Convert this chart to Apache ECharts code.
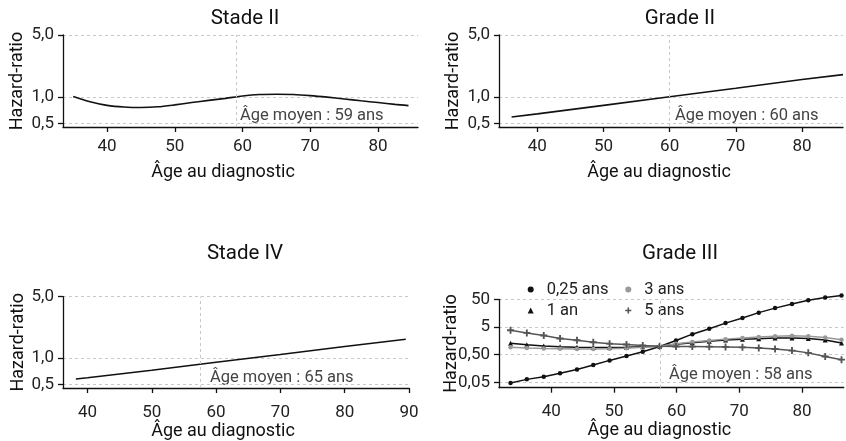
<!DOCTYPE html>
<html><head><meta charset="utf-8">
<script src="https://cdn.jsdelivr.net/npm/echarts@6/dist/echarts.min.js"></script>
<style>html,body{margin:0;padding:0;background:#fff}#c{width:846px;height:441px}</style>
</head><body><div id="c"></div><script>
const FONT = "Roboto, 'DejaVu Sans Condensed', sans-serif";

// ---- texts ----
const panelTitles = ['Stade II', 'Grade II', 'Stade IV', 'Grade III'];
const xAxisName = 'Âge au diagnostic';
const yAxisName = 'Hazard-ratio';
const meanAges = [59, 60, 57.5, 57.45];
const meanAgeLabels = ['Âge moyen : 59 ans', 'Âge moyen : 60 ans', 'Âge moyen : 65 ans', 'Âge moyen : 58 ans'];

// ---- ticks ----
const xTicks = [40, 50, 60, 70, 80];
const xTicksStadeIV = [40, 50, 60, 70, 80, 90];
const yTicks = [0.5, 1, 5];
const yTickLabels = ['0,5', '1,0', '5,0'];
const yTicksGradeIII = [0.05, 0.5, 5, 50];
const yTickLabelsGradeIII = ['0,05', '0,50', '5', '50'];

// ---- data ----
const stadeIIAge = [35, 37.5, 40, 42.5, 45, 47.5, 50, 52.5, 55, 57.5, 60, 62.5, 65, 67.5, 70, 72.5, 75, 77.5, 80, 82.5, 84.5];
const stadeIIHR  = [1.01, 0.88, 0.80, 0.765, 0.755, 0.77, 0.81, 0.86, 0.91, 0.96, 1.02, 1.06, 1.07, 1.06, 1.03, 0.99, 0.945, 0.90, 0.86, 0.82, 0.795];

const gradeIIAge = [36.1, 40, 50, 60, 70, 80, 86.2];
const gradeIIHR  = [0.59, 0.64, 0.80, 1.00, 1.25, 1.57, 1.78];

const stadeIVAge = [38.2, 40, 50, 60, 70, 80, 89.5];
const stadeIVHR  = [0.58, 0.60, 0.73, 0.90, 1.10, 1.36, 1.64];

const gradeIIIAge = [33.5, 36.1, 38.8, 41.4, 44.1, 46.7, 49.3, 52.0, 54.6, 57.3, 59.9, 62.5, 65.2, 67.8, 70.5, 73.1, 75.7, 78.4, 81.0, 83.7, 86.3];
const gradeIIISeriesNames = ['0,25 ans', '1 an', '3 ans', '5 ans'];
const hr025 = [0.047, 0.064, 0.08, 0.106, 0.146, 0.21, 0.31, 0.45, 0.64, 0.98, 1.62, 2.75, 4.3, 6.9, 10.5, 16.5, 24, 34, 46, 58, 68];
const hr1   = [1.29, 1.13, 1.03, 0.96, 0.92, 0.90, 0.91, 0.93, 0.97, 1.0, 1.2, 1.35, 1.52, 1.68, 1.80, 1.89, 1.98, 2.0, 1.9, 1.69, 1.32];
const hr3   = [0.92, 0.87, 0.84, 0.82, 0.80, 0.80, 0.82, 0.86, 0.93, 1.0, 1.25, 1.42, 1.62, 1.82, 2.0, 2.17, 2.29, 2.42, 2.3, 2.1, 1.74];
const hr5   = [3.8, 3.05, 2.45, 1.92, 1.65, 1.40, 1.25, 1.16, 1.07, 1.0, 0.99, 0.98, 0.97, 0.95, 0.92, 0.87, 0.80, 0.70, 0.58, 0.43, 0.33];

const PLUS = 'path://M2.2,0H3.8V2.2H6V3.8H3.8V6H2.2V3.8H0V2.2H2.2Z';

function zip(a, b) { return a.map((x, i) => [x, b[i]]); }
function labelFmt(vals, labels) {
  return v => {
    let best = 0;
    for (let i = 1; i < vals.length; i++) {
      if (Math.abs(Math.log(vals[i] / v)) < Math.abs(Math.log(vals[best] / v))) best = i;
    }
    return labels[best];
  };
}

const grids = [
  { left: 63, top: 35, width: 355, height: 92 },
  { left: 499, top: 35, width: 344, height: 92 },
  { left: 63, top: 296.7, width: 346, height: 91.6 },
  { left: 499, top: 299.3, width: 344.7, height: 88.4 }
];
const xRanges = [[33.5, 85.9], [34.2, 86.2], [36.2, 90], [31.66, 86.65]];
const yRanges = [[0.455, 5], [0.455, 5], [0.458, 5], [0.032, 50]];
const xTickSets = [xTicks, xTicks, xTicksStadeIV, xTicks];
const yTickSets = [yTicks, yTicks, yTicks, yTicksGradeIII];
const yLabelSets = [yTickLabels, yTickLabels, yTickLabels, yTickLabelsGradeIII];
const xLabelMargin = [11, 11, 16, 16];
const xNameGap = [36, 36, 34, 34];
const xNameShift = [35, 24, 26, 24];
const yNameGap = [37, 37, 36, 39];

const axisLineStyle = { color: '#111', width: 1.3 };
const gridLine = { show: true, lineStyle: { color: '#c8c8c8', type: [3, 3], width: 1 } };

const xAxes = grids.map((g, i) => ({
  type: 'value', gridIndex: i, min: xRanges[i][0], max: xRanges[i][1],
  name: xAxisName, nameLocation: 'middle', nameGap: xNameGap[i], nameMoveOverlap: false,
  nameTextStyle: { fontFamily: FONT, fontSize: 18, color: '#111', padding: [0, xNameShift[i], 0, 0] },
  axisLine: { show: true, onZero: false, lineStyle: axisLineStyle },
  axisTick: { show: true, length: 5, lineStyle: axisLineStyle, customValues: xTickSets[i] },
  axisLabel: { fontFamily: FONT, fontSize: 17, color: '#222', margin: xLabelMargin[i], customValues: xTickSets[i] },
  splitLine: { show: false }
}));

const yAxes = grids.map((g, i) => ({
  type: 'log', logBase: 10, gridIndex: i, min: yRanges[i][0], max: yRanges[i][1],
  name: yAxisName, nameLocation: 'middle', nameGap: yNameGap[i], nameRotate: 90, nameMoveOverlap: false,
  nameTextStyle: { fontFamily: FONT, fontSize: 18, color: '#111' },
  axisLine: { show: true, lineStyle: axisLineStyle },
  axisTick: { show: true, length: 5, lineStyle: axisLineStyle, customValues: yTickSets[i] },
  axisLabel: { fontFamily: FONT, fontSize: 17, color: '#222', margin: 9, customValues: yTickSets[i],
               formatter: labelFmt(yTickSets[i], yLabelSets[i]) },
  splitLine: gridLine
}));

function meanLine(i) {
  return { symbol: ['none', 'none'], silent: true, label: { show: false },
           lineStyle: { type: [3, 3], color: '#c8c8c8', width: 1 },
           data: [{ xAxis: meanAges[i] }] };
}

const series = [
  { type: 'line', xAxisIndex: 0, yAxisIndex: 0, data: zip(stadeIIAge, stadeIIHR), smooth: 0.3,
    showSymbol: false, lineStyle: { color: '#111', width: 1.6 }, markLine: meanLine(0) },
  { type: 'line', xAxisIndex: 1, yAxisIndex: 1, data: zip(gradeIIAge, gradeIIHR),
    showSymbol: false, lineStyle: { color: '#111', width: 1.6 }, markLine: meanLine(1) },
  { type: 'line', xAxisIndex: 2, yAxisIndex: 2, data: zip(stadeIVAge, stadeIVHR),
    showSymbol: false, lineStyle: { color: '#111', width: 1.6 }, markLine: meanLine(2) },
  { name: gradeIIISeriesNames[0], type: 'line', xAxisIndex: 3, yAxisIndex: 3, data: zip(gradeIIIAge, hr025),
    symbol: 'circle', symbolSize: 4.5, clip: false, color: '#111',
    lineStyle: { color: '#111', width: 1.5 }, itemStyle: { color: '#111' }, markLine: meanLine(3) },
  { name: gradeIIISeriesNames[1], type: 'line', xAxisIndex: 3, yAxisIndex: 3, data: zip(gradeIIIAge, hr1),
    symbol: 'triangle', symbolSize: 5, clip: false, color: '#111',
    lineStyle: { color: '#111', width: 1.5 }, itemStyle: { color: '#111' } },
  { name: gradeIIISeriesNames[2], type: 'line', xAxisIndex: 3, yAxisIndex: 3, data: zip(gradeIIIAge, hr3),
    symbol: 'circle', symbolSize: 4.5, clip: false, color: '#999',
    lineStyle: { color: '#999', width: 1.5 }, itemStyle: { color: '#999' } },
  { name: gradeIIISeriesNames[3], type: 'line', xAxisIndex: 3, yAxisIndex: 3, data: zip(gradeIIIAge, hr5),
    symbol: PLUS, symbolSize: 7, clip: false, color: '#555',
    lineStyle: { color: '#555', width: 1.5 }, itemStyle: { color: '#555' } }
];

const titleCenters = [[240, 3], [675, 3], [240, 238], [675, 238]];
const titles = panelTitles.map((t, i) => ({
  text: t, left: titleCenters[i][0], top: titleCenters[i][1], textAlign: 'center',
  textStyle: { fontFamily: FONT, fontSize: 20.5, fontWeight: 'normal', color: '#111' }
}));

const annotPos = [[240, 107], [675, 107], [210, 369], [669, 366]];
const graphics = meanAgeLabels.map((t, i) => ({
  type: 'text', left: annotPos[i][0], top: annotPos[i][1], silent: true,
  style: { text: t, font: '16.5px ' + FONT, fill: '#444' }
}));

const legendText = { fontFamily: FONT, fontSize: 16.5, color: '#222', padding: [0, 0, 0, 8] };
const legends = [
  { data: [{ name: gradeIIISeriesNames[0], icon: 'circle' }, { name: gradeIIISeriesNames[1], icon: 'triangle' }],
    orient: 'vertical', left: 527.7, top: 281, itemWidth: 6, itemHeight: 6, itemGap: 4,
    selectedMode: false, textStyle: legendText, padding: 0 },
  { data: [{ name: gradeIIISeriesNames[2], icon: 'circle' }, { name: gradeIIISeriesNames[3], icon: PLUS }],
    orient: 'vertical', left: 625.3, top: 281, itemWidth: 6, itemHeight: 6, itemGap: 4,
    selectedMode: false, textStyle: legendText, padding: 0 }
];

const chart = echarts.init(document.getElementById('c'));
chart.setOption({
  animation: false,
  backgroundColor: '#fff',
  title: titles,
  legend: legends,
  grid: grids,
  xAxis: xAxes,
  yAxis: yAxes,
  series: series,
  graphic: graphics
});
</script></body></html>
